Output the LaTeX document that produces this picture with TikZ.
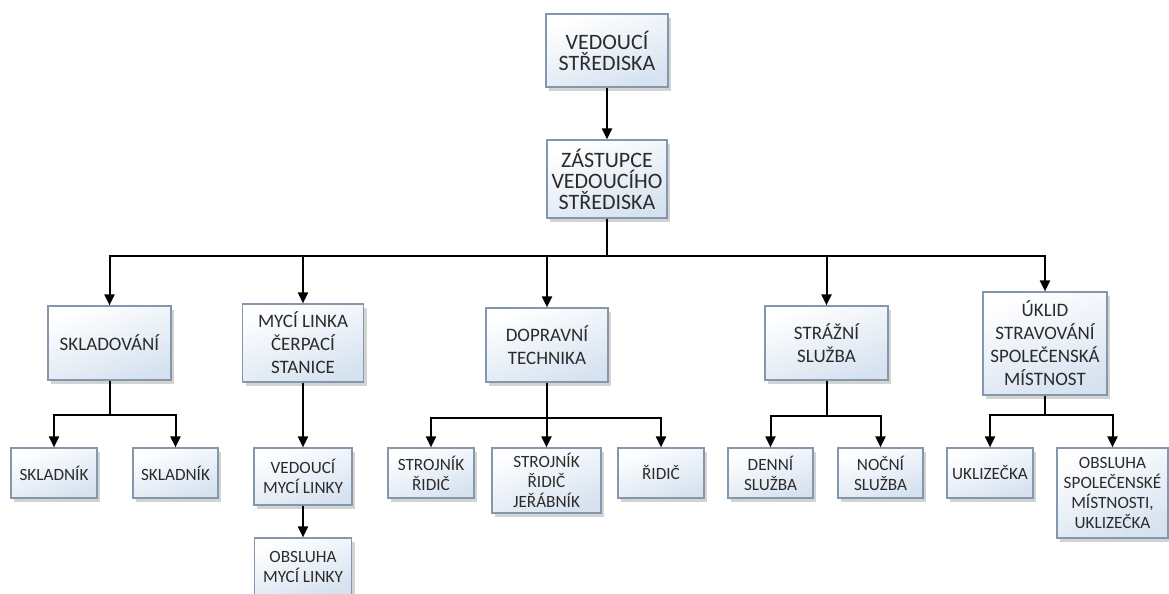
\documentclass[tikz,border=0pt]{standalone}
\usepackage{fontspec}
\setmainfont{Carlito}
\usepackage{tikz}
\usetikzlibrary{arrows.meta, positioning, calc, shadows}
\definecolor{BoxBlue}{HTML}{D6E2F0}
\definecolor{BoxEdge}{HTML}{8497AD}
\definecolor{InkGray}{HTML}{2B2B2B}
\tikzset{
  orgbox/.style={rectangle, draw=BoxEdge, line width=0.6pt,
                 top color=white, bottom color=BoxBlue, shading angle=20,
                 drop shadow={shadow xshift=1.5pt, shadow yshift=-1.8pt, opacity=0.35},
                 align=center, inner sep=1pt, text=InkGray,
                 font=\fontsize{8.6}{10}\selectfont},
  headbox/.style={orgbox, font=\fontsize{11}{10.5}\selectfont},
  deptbox/.style={orgbox, font=\fontsize{9.5}{11.5}\selectfont},
  link/.style={line width=1pt, black},
  linkarrow/.style={link, -{Triangle[length=5.5pt, width=5pt]}}
}

\begin{document}
\begin{tikzpicture}[x=0.5pt, y=-0.5pt]
    \useasboundingbox (0,0) rectangle (1169,594);

    % Top of the tree
    \node[headbox, minimum width=61pt, minimum height=36.5pt] (ved) at (607,50.5)
        {VEDOUCÍ\\STŘEDISKA};
    \node[headbox, minimum width=60pt, minimum height=39pt] (zast) at (607,179)
        {ZÁSTUPCE\\VEDOUCÍHO\\STŘEDISKA};

    % Departments
    \node[deptbox, minimum width=61.5pt, minimum height=37pt] (sklad) at (109.5,343)
        {SKLADOVÁNÍ};
    \node[deptbox, minimum width=60.5pt, minimum height=39pt] (myci) at (303,343)
        {MYCÍ LINKA\\ČERPACÍ\\STANICE};
    \node[deptbox, minimum width=61pt, minimum height=37pt] (doprava) at (547,345)
        {DOPRAVNÍ\\TECHNIKA};
    \node[deptbox, minimum width=61.5pt, minimum height=37pt] (straz) at (826.5,343)
        {STRÁŽNÍ\\SLUŽBA};
    \node[deptbox, minimum width=62pt, minimum height=51.5pt] (uklid) at (1045,343.5)
        {ÚKLID\\STRAVOVÁNÍ\\SPOLEČENSKÁ\\MÍSTNOST};

    % Staff
    \node[orgbox, minimum width=43pt, minimum height=25pt] (skladnikA) at (54,473)
        {SKLADNÍK};
    \node[orgbox, minimum width=42.5pt, minimum height=25pt] (skladnikB) at (175.5,473)
        {SKLADNÍK};
    \node[orgbox, minimum width=49pt, minimum height=28.5pt] (vedmyci) at (303,476.5)
        {VEDOUCÍ\\MYCÍ LINKY};
    \node[orgbox, minimum width=48.5pt, minimum height=28.5pt] (obsmyci) at (303,566.5)
        {OBSLUHA\\MYCÍ LINKY};
    \node[orgbox, minimum width=43pt, minimum height=25pt] (strojA) at (431,473)
        {STROJNÍK\\ŘIDIČ};
    \node[orgbox, minimum width=54.5pt, minimum height=32.5pt] (strojB) at (546.5,480.5)
        {STROJNÍK\\ŘIDIČ\\JEŘÁBNÍK};
    \node[orgbox, minimum width=43pt, minimum height=25pt] (ridic) at (661,473)
        {ŘIDIČ};
    \node[orgbox, minimum width=42.5pt, minimum height=25pt] (denni) at (770.5,473)
        {DENNÍ\\SLUŽBA};
    \node[orgbox, minimum width=42.5pt, minimum height=25pt] (nocni) at (880.5,473)
        {NOČNÍ\\SLUŽBA};
    \node[orgbox, minimum width=43pt, minimum height=25pt] (uklizec) at (990,473)
        {UKLIZEČKA};
    \node[orgbox, minimum width=55.5pt, minimum height=45pt] (obsspol) at (1112.5,493)
        {OBSLUHA\\SPOLEČENSKÉ\\MÍSTNOSTI,\\UKLIZEČKA};

    % Branch points
    \coordinate (bus) at (607,256);
    \coordinate (skladfork) at (109.5,415);
    \coordinate (dopfork) at (547,418);
    \coordinate (strazfork) at (826.5,416);
    \coordinate (uklidfork) at (1045,415);

    % Connectors
    \draw[linkarrow] (ved) -- (zast);
    \draw[link] (zast.south) -- (bus);
    \foreach \dept in {sklad, myci, doprava, straz, uklid}
        \draw[linkarrow] (bus) -| (\dept.north);

    \draw[link] (sklad.south) -- (skladfork);
    \foreach \staff in {skladnikA, skladnikB}
        \draw[linkarrow] (skladfork) -| (\staff.north);

    \draw[linkarrow] (myci) -- (vedmyci);
    \draw[linkarrow] (vedmyci) -- (obsmyci);

    \draw[link] (doprava.south) -- (dopfork);
    \foreach \staff in {strojA, strojB, ridic}
        \draw[linkarrow] (dopfork) -| (\staff.north);

    \draw[link] (straz.south) -- (strazfork);
    \foreach \staff in {denni, nocni}
        \draw[linkarrow] (strazfork) -| (\staff.north);

    \draw[link] (uklid.south) -- (uklidfork);
    \foreach \staff in {uklizec, obsspol}
        \draw[linkarrow] (uklidfork) -| (\staff.north);
\end{tikzpicture}
\end{document}
